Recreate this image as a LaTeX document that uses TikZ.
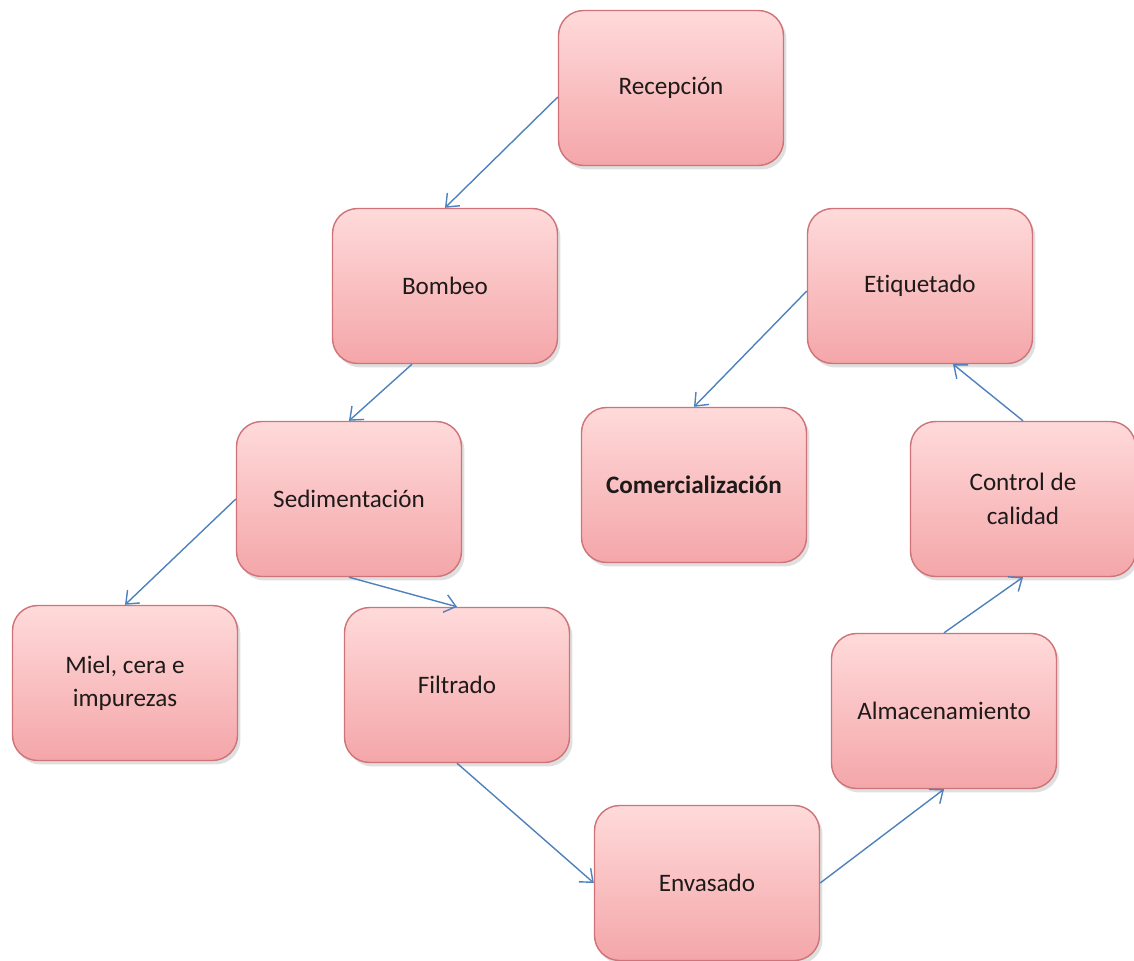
\documentclass[tikz,border=0pt]{standalone}
\usepackage{fontspec}
\setmainfont{Carlito}[Ligatures=NoCommon]
\usetikzlibrary{arrows.meta,shadows,calc}

\definecolor{boxtop}{HTML}{FFDADA}
\definecolor{boxbottom}{HTML}{F4A6A9}
\definecolor{boxline}{HTML}{CF7378}
\definecolor{flowline}{HTML}{4F81BD}
\definecolor{txt}{HTML}{1E1A1A}

\tikzset{
  stepbox/.style={
    draw=boxline, line width=0.8pt, rounded corners=0.5cm,
    top color=boxtop, bottom color=boxbottom,
    minimum width=4.5cm, minimum height=3.1cm,
    align=center, text=txt,
    font=\fontsize{14.3}{19}\selectfont,
    drop shadow={opacity=0.25, shadow xshift=0.06cm, shadow yshift=-0.08cm}
  },
  flow/.style={
    draw=flowline, line width=0.8pt,
    -{Straight Barb[length=2.2mm,width=3.6mm,line width=0.8pt]}
  }
}

\begin{document}
\begin{tikzpicture}[x=0.02cm,y=-0.02cm]
  \useasboundingbox (0,0) rectangle (1134,961);

  % process steps
  \node[stepbox] (rec) at (671,88)  {Recepción};
  \node[stepbox] (bom) at (445,286) {Bombeo};
  \node[stepbox] (eti) at (920,286) {Etiquetado};
  \node[stepbox] (sed) at (349,499) {Sedimentación};
  \node[stepbox] (com) at (694,485) {\bfseries Comercialización};
  \node[stepbox] (ctl) at (1023,499) {Control de\\calidad};
  \node[stepbox] (mie) at (125,683) {Miel, cera e\\impurezas};
  \node[stepbox] (fil) at (457,685) {Filtrado};
  \node[stepbox] (alm) at (944,711) {Almacenamiento};
  \node[stepbox] (env) at (707,883) {Envasado};

  % flow between steps
  \draw[flow] ($(rec.west)+(0,9)$) -- (bom.north);
  \draw[flow] ($(bom.south)+(-33,0)$) -- (sed.north);
  \draw[flow] (sed.west) -- (mie.north);
  \draw[flow] (sed.south) -- (fil.north);
  \draw[flow] (fil.south) -- (env.west);
  \draw[flow] (env.east) -- (alm.south);
  \draw[flow] (alm.north) -- (ctl.south);
  \draw[flow] (ctl.north) -- ($(eti.south)+(33,0)$);
  \draw[flow] ($(eti.west)+(0,5)$) -- (com.north);
\end{tikzpicture}
\end{document}
